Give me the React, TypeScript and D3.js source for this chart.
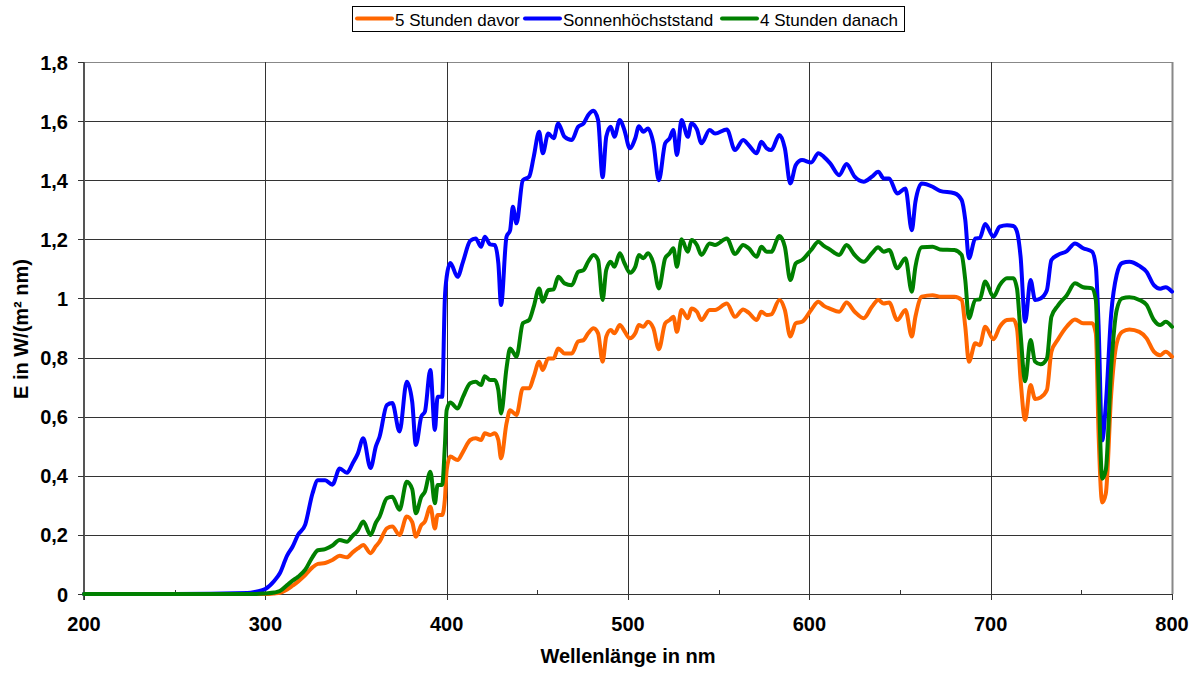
import { useEffect, useRef } from 'react';
import * as d3 from 'd3';

// Wellenlängen in nm (gemeinsames Raster für alle drei Messreihen)
const wavelengths = [
  200, 250, 290, 295, 300, 305, 308, 312, 315, 318, 322, 326, 329, 333, 337, 341, 345, 348, 351, 354,
  358, 361, 363, 367, 370, 374, 378, 381, 383, 386, 388, 391, 393.5, 395, 397.5, 399, 400, 402, 406, 409,
  413, 416, 419, 421, 424, 426.5, 428.5, 430, 433, 435, 436.5, 438.5, 442, 445.5, 448, 451, 453, 456, 459, 461.5,
  465, 469, 472.5, 475.5, 478, 481, 483.5, 486, 488, 490.5, 492.5, 495.5, 498, 501, 504, 506, 508.5, 511, 514, 517,
  520.5, 523, 525, 527, 529.5, 533, 535, 538, 540.5, 545, 548, 554.5, 559, 563.5, 566.5, 571, 573.5, 576.5, 579, 583.5,
  586.5, 589.5, 592.5, 596, 601, 605, 608, 611.5, 616.5, 620.5, 625, 630, 634.5, 638, 641, 644, 648.5, 653, 656.5, 658.5,
  662, 668, 672, 680, 684, 686, 688, 691.5, 694, 697, 701.5, 705, 709, 712.5, 714.5, 716.5, 719, 722, 724.5, 727.5,
  731, 733.5, 737, 742, 746.5, 751, 756, 758, 759.5, 761.5, 763.5, 766.5, 769.5, 772.5, 776.5, 782, 786, 790, 793.5, 796.5,
  800,
];

const fuenfStundenDavor = [
  0, 0, 0, 0, 0, 0.002, 0.004, 0.015, 0.028, 0.042, 0.064, 0.09, 0.102, 0.105, 0.115, 0.129, 0.124, 0.14, 0.154, 0.166,
  0.138, 0.162, 0.177, 0.222, 0.228, 0.2, 0.262, 0.243, 0.194, 0.233, 0.245, 0.295, 0.222, 0.267, 0.267, 0.32, 0.42, 0.465, 0.453, 0.481,
  0.521, 0.527, 0.521, 0.544, 0.538, 0.544, 0.521, 0.459, 0.577, 0.622, 0.615, 0.606, 0.696, 0.696, 0.735, 0.786, 0.758, 0.797, 0.797, 0.831,
  0.814, 0.814, 0.854, 0.859, 0.882, 0.899, 0.882, 0.786, 0.871, 0.893, 0.882, 0.91, 0.89, 0.865, 0.882, 0.91, 0.904, 0.921, 0.899, 0.828,
  0.916, 0.927, 0.938, 0.887, 0.961, 0.933, 0.966, 0.955, 0.927, 0.961, 0.961, 0.983, 0.938, 0.963, 0.952, 0.927, 0.955, 0.944, 0.946, 0.995,
  0.961, 0.871, 0.916, 0.921, 0.961, 0.989, 0.975, 0.965, 0.955, 0.986, 0.955, 0.933, 0.972, 0.995, 0.983, 0.986, 0.927, 0.961, 0.871, 0.938,
  1.006, 1.011, 1.006, 1.006, 0.995, 0.904, 0.786, 0.848, 0.842, 0.904, 0.862, 0.904, 0.927, 0.929, 0.899, 0.724, 0.589, 0.707, 0.66, 0.665,
  0.69, 0.82, 0.86, 0.905, 0.929, 0.916, 0.916, 0.882, 0.544, 0.31, 0.34, 0.679, 0.848, 0.887, 0.895, 0.887, 0.865, 0.82, 0.808, 0.82,
  0.803,
];

const sonnenhoechststand = [
  0, 0, 0.003, 0.008, 0.017, 0.045, 0.07, 0.13, 0.16, 0.2, 0.235, 0.34, 0.385, 0.385, 0.37, 0.425, 0.41, 0.44, 0.475, 0.527,
  0.426, 0.5, 0.532, 0.639, 0.646, 0.55, 0.718, 0.65, 0.504, 0.6, 0.617, 0.758, 0.555, 0.667, 0.667, 1.0, 1.073, 1.12, 1.073, 1.124,
  1.195, 1.203, 1.175, 1.209, 1.183, 1.181, 1.119, 0.978, 1.209, 1.231, 1.31, 1.254, 1.4, 1.412, 1.479, 1.564, 1.491, 1.558, 1.542, 1.592,
  1.547, 1.536, 1.581, 1.592, 1.62, 1.635, 1.604, 1.41, 1.547, 1.581, 1.547, 1.604, 1.57, 1.508, 1.542, 1.583, 1.564, 1.575, 1.525, 1.4,
  1.525, 1.542, 1.57, 1.485, 1.604, 1.547, 1.592, 1.572, 1.525, 1.57, 1.558, 1.572, 1.502, 1.536, 1.519, 1.491, 1.53, 1.508, 1.502, 1.553,
  1.508, 1.389, 1.451, 1.468, 1.46, 1.491, 1.479, 1.457, 1.417, 1.455, 1.412, 1.395, 1.412, 1.429, 1.406, 1.406, 1.355, 1.372, 1.231, 1.327,
  1.389, 1.378, 1.364, 1.356, 1.333, 1.265, 1.136, 1.203, 1.205, 1.252, 1.209, 1.243, 1.248, 1.245, 1.226, 1.141, 0.921, 1.062, 0.995, 1.0,
  1.028, 1.13, 1.147, 1.16, 1.186, 1.17, 1.158, 1.107, 0.91, 0.52, 0.64, 0.95, 1.08, 1.12, 1.124, 1.11, 1.09, 1.045, 1.033, 1.038,
  1.023,
];

const vierStundenDanach = [
  0, 0, 0, 0, 0.002, 0.005, 0.01, 0.03, 0.045, 0.058, 0.082, 0.125, 0.148, 0.152, 0.164, 0.183, 0.177, 0.196, 0.215, 0.245,
  0.2, 0.242, 0.262, 0.324, 0.329, 0.285, 0.38, 0.355, 0.273, 0.329, 0.346, 0.414, 0.307, 0.369, 0.369, 0.5, 0.622, 0.648, 0.628, 0.667,
  0.713, 0.718, 0.707, 0.737, 0.724, 0.724, 0.69, 0.611, 0.764, 0.831, 0.82, 0.803, 0.916, 0.927, 0.972, 1.034, 0.989, 1.028, 1.031, 1.073,
  1.051, 1.045, 1.09, 1.096, 1.124, 1.147, 1.13, 0.995, 1.096, 1.124, 1.107, 1.153, 1.12, 1.087, 1.107, 1.147, 1.136, 1.153, 1.119, 1.034,
  1.136, 1.153, 1.17, 1.107, 1.2, 1.158, 1.198, 1.181, 1.147, 1.186, 1.181, 1.203, 1.15, 1.181, 1.17, 1.141, 1.175, 1.158, 1.158, 1.211,
  1.175, 1.062, 1.119, 1.13, 1.164, 1.192, 1.178, 1.165, 1.147, 1.181, 1.147, 1.124, 1.153, 1.173, 1.158, 1.164, 1.102, 1.136, 1.023, 1.107,
  1.173, 1.175, 1.166, 1.164, 1.147, 1.062, 0.933, 0.995, 0.997, 1.057, 1.006, 1.045, 1.068, 1.068, 1.034, 0.88, 0.72, 0.859, 0.786, 0.777,
  0.797, 0.938, 0.975, 1.011, 1.051, 1.038, 1.034, 0.995, 0.713, 0.39, 0.42, 0.769, 0.961, 1.0, 1.004, 0.995, 0.978, 0.927, 0.91, 0.921,
  0.904,
];

const seriesNames = ['5 Stunden davor', 'Sonnenhöchststand', '4 Stunden danach'];
const seriesColors = ['#FF6600', '#0000FF', '#008000'];
const xTicks = [200, 300, 400, 500, 600, 700, 800];
const xMinorTicks = [250, 350, 450, 550, 650, 750];
const yTicks = [0, 0.2, 0.4, 0.6, 0.8, 1, 1.2, 1.4, 1.6, 1.8];

const FONT = '"Liberation Sans", Arial, sans-serif';

export default function App() {
  const svgRef = useRef<SVGSVGElement>(null);

  useEffect(() => {
    if (!svgRef.current) return;
    const width = 1195;
    const height = 673;
    const left = 84;
    const right = 1172;
    const top = 62;
    const bottom = 594;

    const svg = d3.select(svgRef.current);
    svg.selectAll('*').remove();
    svg.attr('width', width).attr('height', height);

    svg.append('rect').attr('width', width).attr('height', height).attr('fill', '#fff');

    const xScale = d3.scaleLinear().domain([200, 800]).range([left, right]);
    const yScale = d3.scaleLinear().domain([0, 1.8]).range([bottom, top]);

    const g = svg.append('g');

    // Gitterlinien
    g.selectAll('line.hgrid')
      .data(yTicks.slice(1))
      .join('line')
      .attr('class', 'hgrid')
      .attr('x1', left)
      .attr('x2', right)
      .attr('y1', (d) => Math.round(yScale(d)) + 0.5)
      .attr('y2', (d) => Math.round(yScale(d)) + 0.5)
      .attr('stroke', (d) => (d === 1.8 ? '#888' : '#333'))
      .attr('stroke-width', 1);

    g.selectAll('line.vgrid')
      .data(xTicks.slice(1, -1))
      .join('line')
      .attr('class', 'vgrid')
      .attr('x1', (d) => Math.round(xScale(d)) + 0.5)
      .attr('x2', (d) => Math.round(xScale(d)) + 0.5)
      .attr('y1', top)
      .attr('y2', bottom)
      .attr('stroke', '#333')
      .attr('stroke-width', 1);

    // rechter Rand
    g.append('line')
      .attr('x1', right + 0.5).attr('x2', right + 0.5)
      .attr('y1', top).attr('y2', bottom)
      .attr('stroke', '#888').attr('stroke-width', 2);

    // Achsen
    g.append('line')
      .attr('x1', left).attr('x2', left)
      .attr('y1', top).attr('y2', bottom + 6)
      .attr('stroke', '#555').attr('stroke-width', 2);
    g.append('line')
      .attr('x1', left).attr('x2', right + 1)
      .attr('y1', bottom + 0.5).attr('y2', bottom + 0.5)
      .attr('stroke', '#333').attr('stroke-width', 1);

    g.selectAll('line.ytick')
      .data(yTicks)
      .join('line')
      .attr('class', 'ytick')
      .attr('x1', left - 6)
      .attr('x2', left)
      .attr('y1', (d) => Math.round(yScale(d)) + 0.5)
      .attr('y2', (d) => Math.round(yScale(d)) + 0.5)
      .attr('stroke', '#333');

    g.selectAll('line.xtick')
      .data(xTicks)
      .join('line')
      .attr('class', 'xtick')
      .attr('x1', (d) => Math.round(xScale(d)) + 0.5)
      .attr('x2', (d) => Math.round(xScale(d)) + 0.5)
      .attr('y1', bottom)
      .attr('y2', bottom + 6)
      .attr('stroke', '#333');

    g.selectAll('line.xminor')
      .data(xMinorTicks)
      .join('line')
      .attr('class', 'xminor')
      .attr('x1', (d) => Math.round(xScale(d)) + 0.5)
      .attr('x2', (d) => Math.round(xScale(d)) + 0.5)
      .attr('y1', bottom - 4)
      .attr('y2', bottom)
      .attr('stroke', '#333');

    // Beschriftungen
    g.selectAll('text.ylabel')
      .data(yTicks)
      .join('text')
      .attr('class', 'ylabel')
      .attr('x', left - 16)
      .attr('y', (d) => yScale(d) + 7.5)
      .attr('text-anchor', 'end')
      .attr('font-family', FONT)
      .attr('font-weight', 'bold')
      .attr('font-size', 20)
      .text((d) => String(Math.round(d * 10) / 10).replace('.', ','));

    g.selectAll('text.xlabel')
      .data(xTicks)
      .join('text')
      .attr('class', 'xlabel')
      .attr('x', (d) => xScale(d))
      .attr('y', 631)
      .attr('text-anchor', 'middle')
      .attr('font-family', FONT)
      .attr('font-weight', 'bold')
      .attr('font-size', 20)
      .text((d) => d);

    g.append('text')
      .attr('x', 628)
      .attr('y', 663)
      .attr('text-anchor', 'middle')
      .attr('font-family', FONT)
      .attr('font-weight', 'bold')
      .attr('font-size', 20)
      .text('Wellenlänge in nm');

    g.append('text')
      .attr('transform', `translate(28, 329) rotate(-90)`)
      .attr('text-anchor', 'middle')
      .attr('font-family', FONT)
      .attr('font-weight', 'bold')
      .attr('font-size', 20)
      .text('E in W/(m² nm)');

    // Kurven
    const allSeries = [fuenfStundenDavor, sonnenhoechststand, vierStundenDanach];
    const line = d3.line<number>()
      .x((_, i) => xScale(wavelengths[i]))
      .y((d) => yScale(d))
      .curve(d3.curveMonotoneX);

    g.selectAll('path.series')
      .data(allSeries)
      .join('path')
      .attr('class', 'series')
      .attr('d', (d) => line(d))
      .attr('fill', 'none')
      .attr('stroke', (_, i) => seriesColors[i])
      .attr('stroke-width', 4)
      .attr('stroke-linejoin', 'round')
      .attr('stroke-linecap', 'round');

    // Legende
    const legend = svg.append('g');
    legend.append('rect')
      .attr('x', 352.5)
      .attr('y', 6.5)
      .attr('width', 552)
      .attr('height', 25)
      .attr('fill', '#fff')
      .attr('stroke', '#000')
      .attr('stroke-width', 1);

    const entryStarts = [357, 525, 722];
    seriesNames.forEach((name, i) => {
      const lx = entryStarts[i];
      legend.append('line')
        .attr('x1', lx).attr('x2', lx + 35)
        .attr('y1', 18.5).attr('y2', 18.5)
        .attr('stroke', seriesColors[i])
        .attr('stroke-width', 4)
        .attr('stroke-linecap', 'round');
      legend.append('text')
        .attr('x', lx + 38)
        .attr('y', 26)
        .attr('font-family', FONT)
        .attr('font-size', 17)
        .text(name);
    });
  }, []);

  return (
    <div style={{ position: 'absolute', left: 0, top: 0 }}>
      <svg ref={svgRef} style={{ display: 'block' }} />
    </div>
  );
}
